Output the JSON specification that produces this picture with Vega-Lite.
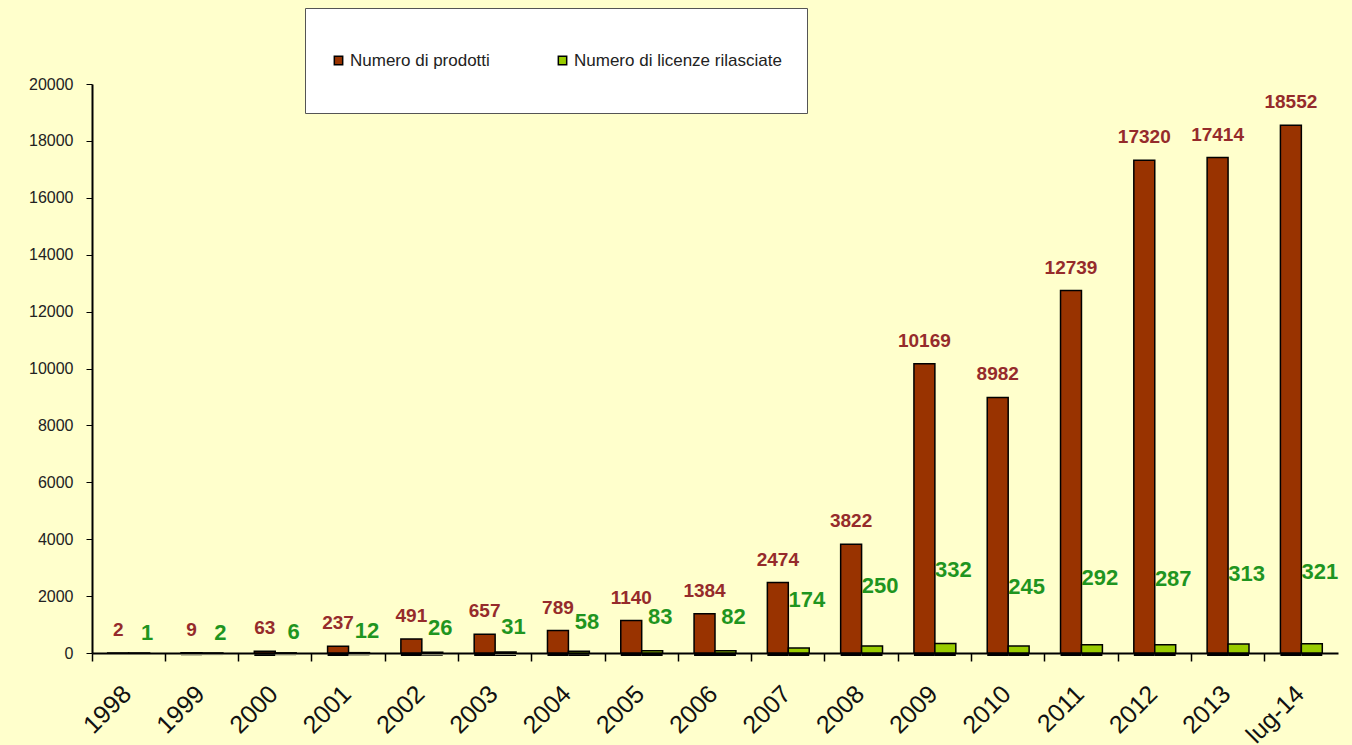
{
  "$schema": "https://vega.github.io/schema/vega-lite/v6.json",
  "width": 1246,
  "height": 569,
  "autosize": {"type": "none"},
  "padding": {"left": 92, "top": 84, "right": 14, "bottom": 92},
  "background": "#FFFFCC",
  "config": {
    "view": {"stroke": null},
    "font": "Liberation Sans"
  },
  "data": {
    "values": [
      {"anno": "1998", "serie": "Numero di prodotti", "valore": 2},
      {"anno": "1998", "serie": "Numero di licenze rilasciate", "valore": 1},
      {"anno": "1999", "serie": "Numero di prodotti", "valore": 9},
      {"anno": "1999", "serie": "Numero di licenze rilasciate", "valore": 2},
      {"anno": "2000", "serie": "Numero di prodotti", "valore": 63},
      {"anno": "2000", "serie": "Numero di licenze rilasciate", "valore": 6},
      {"anno": "2001", "serie": "Numero di prodotti", "valore": 237},
      {"anno": "2001", "serie": "Numero di licenze rilasciate", "valore": 12},
      {"anno": "2002", "serie": "Numero di prodotti", "valore": 491},
      {"anno": "2002", "serie": "Numero di licenze rilasciate", "valore": 26},
      {"anno": "2003", "serie": "Numero di prodotti", "valore": 657},
      {"anno": "2003", "serie": "Numero di licenze rilasciate", "valore": 31},
      {"anno": "2004", "serie": "Numero di prodotti", "valore": 789},
      {"anno": "2004", "serie": "Numero di licenze rilasciate", "valore": 58},
      {"anno": "2005", "serie": "Numero di prodotti", "valore": 1140},
      {"anno": "2005", "serie": "Numero di licenze rilasciate", "valore": 83},
      {"anno": "2006", "serie": "Numero di prodotti", "valore": 1384},
      {"anno": "2006", "serie": "Numero di licenze rilasciate", "valore": 82},
      {"anno": "2007", "serie": "Numero di prodotti", "valore": 2474},
      {"anno": "2007", "serie": "Numero di licenze rilasciate", "valore": 174},
      {"anno": "2008", "serie": "Numero di prodotti", "valore": 3822},
      {"anno": "2008", "serie": "Numero di licenze rilasciate", "valore": 250},
      {"anno": "2009", "serie": "Numero di prodotti", "valore": 10169},
      {"anno": "2009", "serie": "Numero di licenze rilasciate", "valore": 332},
      {"anno": "2010", "serie": "Numero di prodotti", "valore": 8982},
      {"anno": "2010", "serie": "Numero di licenze rilasciate", "valore": 245},
      {"anno": "2011", "serie": "Numero di prodotti", "valore": 12739},
      {"anno": "2011", "serie": "Numero di licenze rilasciate", "valore": 292},
      {"anno": "2012", "serie": "Numero di prodotti", "valore": 17320},
      {"anno": "2012", "serie": "Numero di licenze rilasciate", "valore": 287},
      {"anno": "2013", "serie": "Numero di prodotti", "valore": 17414},
      {"anno": "2013", "serie": "Numero di licenze rilasciate", "valore": 313},
      {"anno": "lug-14", "serie": "Numero di prodotti", "valore": 18552},
      {"anno": "lug-14", "serie": "Numero di licenze rilasciate", "valore": 321}
    ]
  },
  "encoding": {
    "x": {
      "field": "anno",
      "type": "nominal",
      "sort": null,
      "scale": {"paddingInner": 0, "paddingOuter": 0},
      "axis": {
        "title": null,
        "bandPosition": 0,
        "labelOffset": -10,
        "labelAngle": -45,
        "labelAlign": "right",
        "labelBaseline": "top",
        "labelFontSize": 25,
        "labelColor": "#111",
        "labelPadding": 20,
        "domainColor": "#000",
        "domainWidth": 2,
        "tickColor": "#000",
        "tickWidth": 1.5,
        "tickSize": 8
      }
    },
    "xOffset": {
      "field": "serie",
      "type": "nominal",
      "sort": ["Numero di prodotti", "Numero di licenze rilasciate"],
      "scale": {"paddingInner": 0, "paddingOuter": 0.75}
    }
  },
  "layer": [
    {
      "layer": [
        {
          "mark": {"type": "bar", "color": "#000", "xOffset": 3, "yOffset": 3},
          "encoding": {
            "y": {"field": "valore", "type": "quantitative"}
          }
        },
        {
          "mark": {"type": "bar", "stroke": "#000", "strokeWidth": 1.5},
          "encoding": {
            "y": {
              "field": "valore",
              "type": "quantitative",
              "scale": {"domain": [0, 20000], "nice": false},
              "axis": {
                "title": null,
                "values": [0, 2000, 4000, 6000, 8000, 10000, 12000, 14000, 16000, 18000, 20000],
                "format": "d",
                "grid": false,
                "labelFontSize": 16,
                "labelColor": "#222",
                "labelPadding": 13,
                "domainColor": "#000",
                "domainWidth": 2,
                "tickColor": "#000",
                "tickSize": 6
              }
            },
            "color": {
              "field": "serie",
              "type": "nominal",
              "scale": {
                "domain": ["Numero di prodotti", "Numero di licenze rilasciate"],
                "range": ["#993300", "#99CC00"]
              },
              "legend": {
                "title": null,
                "orient": "none",
                "legendX": 213,
                "legendY": -76,
                "direction": "horizontal",
                "fillColor": "#FFFFFF",
                "strokeColor": "#555555",
                "padding": 25,
                "clipHeight": 55,
                "symbolType": "square",
                "symbolSize": 70,
                "symbolStrokeColor": "#000",
                "symbolStrokeWidth": 1.5,
                "labelFontSize": 17,
                "labelColor": "#222",
                "labelLimit": 400,
                "labelOffset": 3,
                "columnPadding": 64
              }
            }
          }
        },
        {
          "transform": [{"filter": "datum.serie === 'Numero di prodotti'"}],
          "mark": {"type": "text", "fontSize": 19, "fontWeight": "bold", "color": "#952B2B", "baseline": "middle", "dy": -23},
          "encoding": {
            "y": {"field": "valore", "type": "quantitative"},
            "text": {"field": "valore", "type": "quantitative", "format": "d"}
          }
        }
      ]
    },
    {
      "transform": [{"filter": "datum.serie === 'Numero di licenze rilasciate'"}],
      "mark": {"type": "text", "fontSize": 22, "fontWeight": "bold", "color": "#1F951F", "baseline": "middle", "dy": -20, "dx": 8},
      "encoding": {
        "y": {"field": "valore", "type": "quantitative", "scale": {"domain": [0, 3000], "nice": false}, "axis": null},
        "text": {"field": "valore", "type": "quantitative", "format": "d"}
      }
    }
  ],
  "resolve": {"scale": {"y": "independent"}}
}
